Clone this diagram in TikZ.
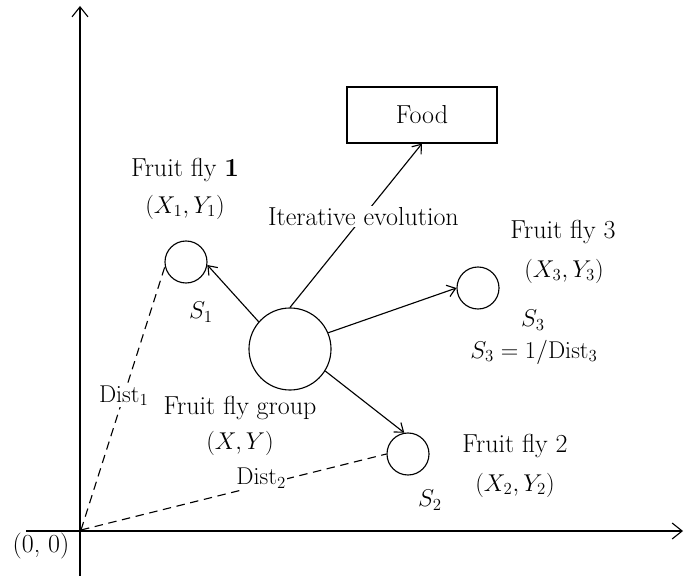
\documentclass[tikz,border=0pt]{standalone}
\usepackage{amsmath}
\usepackage{tikz}
\usetikzlibrary{arrows.meta,positioning}

\begin{document}
\begin{tikzpicture}[
  x=0.025cm, y=-0.025cm,
  every node/.style={font=\fontsize{18.5}{22}\selectfont},
  fly/.style={circle, draw, line width=0.8pt, minimum size=1.05cm, inner sep=0pt},
  swarm/.style={circle, draw, line width=0.8pt, minimum size=2.05cm, inner sep=0pt},
  foodbox/.style={rectangle, draw, line width=0.8pt, minimum width=3.75cm, minimum height=1.4cm},
  arrow/.style={-{Straight Barb[length=2mm, width=3mm]}, line width=0.8pt},
  axis/.style={-{Straight Barb[length=2.5mm, width=4mm]}, line width=0.8pt},
  dist/.style={dash pattern=on 6pt off 4pt, line width=0.8pt},
  cut/.style={fill=white, inner sep=1pt},
]
  \useasboundingbox (0,0) rectangle (684,576);

  \coordinate (origin) at (81,530);
  \coordinate (xstart) at (26,531);
  \coordinate (xend)   at (683,531);
  \coordinate (ystart) at (80,576);
  \coordinate (yend)   at (80,6);
  \draw[axis] (xstart) -- (xend);
  \draw[axis] (ystart) -- (yend);
  \node (zero) at (41,546) {(0, 0)};

  \node[foodbox] (food) at (422,115) {Food};
  \node[fly]   (fly1)  at (186,262) {};
  \node[swarm] (grp)   at (290,349) {};
  \node[fly]   (fly3)  at (478,288) {};
  \node[fly]   (fly2)  at (408,454) {};

  \node (name1) at (185,170) {Fruit fly \textbf{1}};
  \node (pos1)  at (185,207) {$(X_1, Y_1)$};
  \node (s1)    at (201,312) {$S_1$};

  \node (name3) at (563,232) {Fruit fly 3};
  \node (pos3)  at (564,271) {$(X_3, Y_3)$};
  \node (s3)    at (533,320) {$S_3$};
  \node (s3eq)  at (534,352) {$S_3 = 1/\mathrm{Dist}_3$};

  \node (name2) at (515,446) {Fruit fly 2};
  \node (pos2)  at (515,485) {$(X_2, Y_2)$};
  \node (s2)    at (430,500) {$S_2$};

  \node (namegrp) at (240,408) {Fruit fly group};
  \node (posgrp)  at (240,443) {$(X, Y)$};

  \draw[arrow] (grp.139) -- (fly1.-8);
  \draw[arrow] (grp.23)  -- (fly3.west);
  \draw[arrow] (grp.-32) -- (fly2.100);
  \draw[arrow] (grp.north) -- (food.south)
    node[cut, pos=0.556] (evo) {Iterative evolution};

  \draw[dist] (origin) -- (fly1.192)
    node[cut, pos=0.51] (d1) {$\mathrm{Dist}_1$};
  \draw[dist] (origin) -- (fly2.west)
    node[cut, pos=0.59, yshift=0.17cm] (d2) {$\mathrm{Dist}_2$};
\end{tikzpicture}
\end{document}
